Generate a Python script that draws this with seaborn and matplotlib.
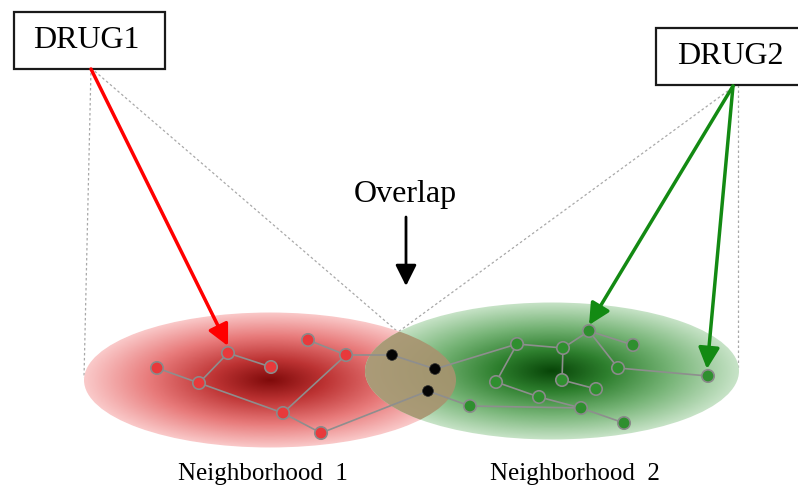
import numpy as np
import pandas as pd
import matplotlib
matplotlib.use("Agg")
import matplotlib.pyplot as plt
import seaborn as sns
from matplotlib.patches import Ellipse, Rectangle
from matplotlib.colors import LinearSegmentedColormap

# node positions (pixel coords of the diagram)
red_x = [228, 271, 157, 199, 283, 321, 308, 346]
red_y = [353, 367, 368, 383, 413, 433, 340, 355]
black_x = [392, 435, 428]
black_y = [355, 369, 391]
green_x = [517, 563, 589, 633, 618, 708, 496, 562, 596, 539, 581, 470, 624]
green_y = [344, 348, 331, 345, 368, 376, 382, 380, 389, 397, 408, 406, 423]

# edges as (group, index) pairs
edges = [
    (("r", 2), ("r", 3)), (("r", 3), ("r", 0)), (("r", 0), ("r", 1)),
    (("r", 3), ("r", 4)), (("r", 4), ("r", 7)), (("r", 4), ("r", 5)),
    (("r", 6), ("r", 7)), (("r", 7), ("b", 0)), (("b", 0), ("b", 1)),
    (("r", 5), ("b", 2)), (("b", 1), ("g", 0)), (("b", 2), ("g", 11)),
    (("g", 0), ("g", 1)), (("g", 1), ("g", 2)), (("g", 2), ("g", 3)),
    (("g", 2), ("g", 4)), (("g", 4), ("g", 5)), (("g", 0), ("g", 6)),
    (("g", 1), ("g", 7)), (("g", 7), ("g", 8)), (("g", 6), ("g", 9)),
    (("g", 9), ("g", 10)), (("g", 10), ("g", 12)), (("g", 11), ("g", 10)),
]

# neighborhoods: center, full width, full height
hood_names = ["Neighborhood  1", "Neighborhood  2"]
hood_cx = [270, 552]
hood_cy = [380, 371]
hood_w = [372, 374]
hood_h = [135, 137]

sns.set_style("white")
plt.rcParams["font.family"] = ["Liberation Serif", "DejaVu Serif"]
plt.rcParams["text.color"] = "black"

fig = plt.figure(figsize=(7.98, 4.86), dpi=100)
ax = fig.add_axes([0, 0, 1, 1])

pos = {"r": (red_x, red_y), "b": (black_x, black_y), "g": (green_x, green_y)}

def pt(key):
    g, i = key
    return pos[g][0][i], pos[g][1][i]

# dashed projection lines
dash_kw = dict(color="#a8a8a8", lw=0.9, ls=(0, (2, 2)), zorder=1)
ax.plot([91, 84], [68, 378], **dash_kw)
ax.plot([91, 398], [68, 332], **dash_kw)
ax.plot([736, 398], [85, 332], **dash_kw)
ax.plot([738, 738], [85, 370], **dash_kw)

# gradient ellipses
red_cmap = LinearSegmentedColormap.from_list(
    "red", [(0, (0.50, 0.04, 0.04)), (0.3, (0.74, 0.20, 0.20)),
            (0.65, (0.91, 0.48, 0.48)), (1, (0.98, 0.79, 0.79))])
green_cmap = LinearSegmentedColormap.from_list(
    "green", [(0, (0.03, 0.27, 0.03)), (0.3, (0.18, 0.50, 0.18)),
              (0.65, (0.47, 0.71, 0.47)), (1, (0.78, 0.89, 0.78))])

for cx, cy, w, h, cmap in zip(hood_cx, hood_cy, hood_w, hood_h, [red_cmap, green_cmap]):
    gx = np.linspace(cx - w / 2, cx + w / 2, 400)
    gy = np.linspace(cy - h / 2, cy + h / 2, 160)
    X, Y = np.meshgrid(gx, gy)
    r = np.sqrt(((X - cx) / (w / 2)) ** 2 + ((Y - cy) / (h / 2)) ** 2)
    r = np.clip(r, 0, 1)
    im = ax.imshow(cmap(r), extent=(gx[0], gx[-1], gy[0], gy[-1]), origin="lower",
                   aspect="auto", zorder=2, interpolation="bilinear")
    im.set_clip_path(Ellipse((cx, cy), w, h, transform=ax.transData))

# overlap region
ov = Ellipse((hood_cx[1], hood_cy[1]), hood_w[1], hood_h[1], facecolor="#a8936f",
             edgecolor="none", alpha=0.9, zorder=3)
ax.add_patch(ov)
ov.set_clip_path(Ellipse((hood_cx[0], hood_cy[0]), hood_w[0], hood_h[0], transform=ax.transData))

# edges
for a, b in edges:
    (x1, y1), (x2, y2) = pt(a), pt(b)
    ax.plot([x1, x2], [y1, y2], color="#8e8e8e", lw=1.2, zorder=4)

# nodes
nodes = pd.DataFrame({
    "x": red_x + black_x + green_x,
    "y": red_y + black_y + green_y,
    "group": ["red"] * len(red_x) + ["black"] * len(black_x) + ["green"] * len(green_x),
})
palette = {"red": "#e8393b", "black": "#050505", "green": "#2f8f2f"}
sns.scatterplot(data=nodes[nodes.group != "black"], x="x", y="y", hue="group",
                palette=palette, s=80, edgecolor="#8a8a8a", linewidth=1.2,
                legend=False, ax=ax, zorder=5)
sns.scatterplot(data=nodes[nodes.group == "black"], x="x", y="y", hue="group",
                palette=palette, s=60, edgecolor="#303030", linewidth=0.5,
                legend=False, ax=ax, zorder=5)
ax.set_xlim(0, 798)
ax.set_ylim(486, 0)
ax.axis("off")

# drug boxes
ax.add_patch(Rectangle((14, 12), 151, 57, facecolor="white", edgecolor="#1a1a1a", lw=1.6, zorder=6))
ax.add_patch(Rectangle((656, 28), 150, 57, facecolor="white", edgecolor="#1a1a1a", lw=1.6, zorder=6))
ax.text(86, 41, "DRUG1", fontsize=23, ha="center", va="center", zorder=7)
ax.text(730, 57, "DRUG2", fontsize=23, ha="center", va="center", zorder=7)

# arrows
arrow_kw = dict(arrowstyle="-|>", lw=2.5, mutation_scale=32, shrinkA=0, shrinkB=0)
ax.annotate("", xy=(228, 346), xytext=(91, 69),
            arrowprops=dict(color="#ff0000", **arrow_kw), zorder=6)
ax.annotate("", xy=(589, 325), xytext=(733, 86),
            arrowprops=dict(color="#138a13", **arrow_kw), zorder=6)
ax.annotate("", xy=(707, 369), xytext=(733, 86),
            arrowprops=dict(color="#138a13", **arrow_kw), zorder=6)
ax.annotate("", xy=(406, 286), xytext=(406, 217),
            arrowprops=dict(arrowstyle="-|>", color="black", lw=2.0, mutation_scale=32,
                            shrinkA=0, shrinkB=0), zorder=6)
ax.text(405, 194, "Overlap", fontsize=23, ha="center", va="center", zorder=7)

# neighborhood labels
ax.text(263, 480, hood_names[0], fontsize=18, ha="center", va="baseline")
ax.text(575, 480, hood_names[1], fontsize=18, ha="center", va="baseline")

fig.savefig("out.png", dpi=100)
